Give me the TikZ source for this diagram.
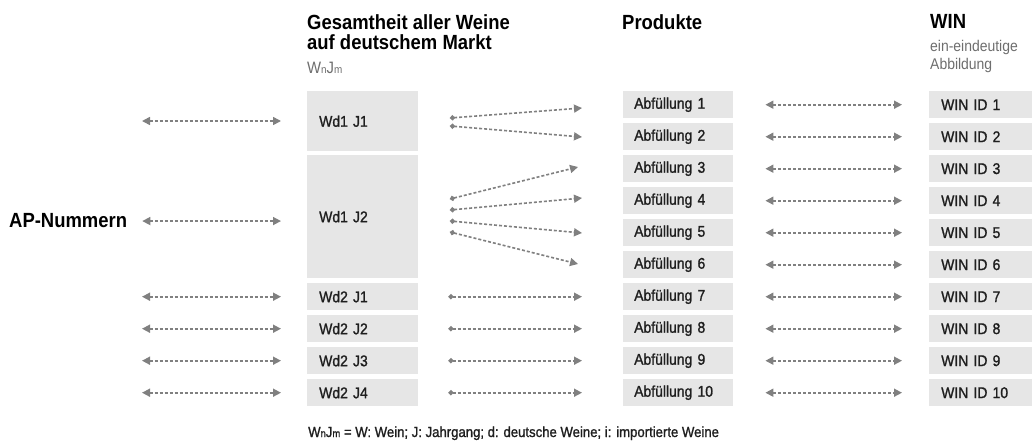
\documentclass[tikz,border=0pt]{standalone}
\usepackage{fontspec}
\setmainfont{Liberation Sans}[FakeStretch=0.9]
\newfontfamily\boxfont{Liberation Sans}[FakeStretch=0.9,FakeBold=1.2]
\usetikzlibrary{arrows.meta,calc}
\definecolor{boxgray}{HTML}{E6E6E6}
\definecolor{arrgray}{HTML}{808080}
\definecolor{txt}{HTML}{1E1E1E}
\definecolor{subgray}{HTML}{6E6E6E}
\tikzset{
  boxbase/.style={fill=boxgray, text=txt, font=\boxfont\fontsize{15.5}{18}\selectfont, inner ysep=0pt, align=left, anchor=north west, minimum height=27pt},
  boxL/.style={boxbase, inner xsep=12pt, text width=87pt},
  boxP/.style={boxbase, inner xsep=11pt, text width=88pt},
  boxW/.style={boxbase, inner xsep=12pt, text width=79pt},
  hdr/.style={anchor=base west, inner sep=0pt, text=black, font=\fontsize{20.5}{20}\selectfont\bfseries},
  sub/.style={anchor=base west, inner sep=0pt, text=subgray, font=\fontsize{15.5}{18}\selectfont},
  dblarrow/.style={draw=arrgray, line width=1.6pt, dash pattern=on 3pt off 2pt,
    {Triangle[length=8pt,width=8pt]}-{Triangle[length=8pt,width=8pt]}},
  onearrow/.style={draw=arrgray, line width=1.6pt, dash pattern=on 3pt off 2pt,
    {Circle[length=5pt]}-{Triangle[length=8pt,width=8pt]}},
}
\newcommand{\wnjm}[1]{W{\fontsize{#1}{#1}\selectfont n}J{\fontsize{#1}{#1}\selectfont m}}
\begin{document}
\begin{tikzpicture}[x=1pt,y=-1pt]
\useasboundingbox (0,0) rectangle (1032,445);

% headers
\node[hdr] (h1) at (307,29) {Gesamtheit aller Weine};
\node[hdr] (h2) at (307,49) {auf deutschem Markt};
\node[sub, font=\fontsize{16.5}{18}\selectfont] (h3) at (307,73) {\wnjm{11}};
\node[hdr] (hp) at (622,29) {Produkte};
\node[hdr] (hw) at (930,28) {WIN};
\node[sub] (hw1) at (930,51) {ein-eindeutige};
\node[sub] (hw2) at (930,69) {Abbildung};
\node[hdr] (ap) at (9,227) {AP-Nummern};

% left column
\node[boxL, minimum height=60pt] (w11) at (307,91) {Wd1 J1};
\node[boxL, minimum height=123pt] (w12) at (307,155) {Wd1 J2};
\node[boxL] (w21) at (307,283) {Wd2 J1};
\node[boxL] (w22) at (307,315) {Wd2 J2};
\node[boxL] (w23) at (307,347) {Wd2 J3};
\node[boxL] (w24) at (307,379) {Wd2 J4};

% products and WIN IDs
\foreach \i in {1,...,10} {
  \pgfmathsetmacro{\t}{91+32*(\i-1)}
  \node[boxP] (a\i) at (623,\t) {Abfüllung \i};
  \node[boxW] (id\i) at (929,\t) {WIN ID \i};
  \draw[dblarrow, shorten <=32pt, shorten >=27pt] (a\i.east) -- (id\i.west);
}

% left arrows
\coordinate (l1) at (142,121);
\draw[dblarrow, shorten >=26pt] (l1) -- (l1 -| w11.west);
\coordinate (apr) at ($(ap.east)+(0,1)$);
\draw[dblarrow, shorten <=15pt, shorten >=26pt] (apr) -- (apr -| w12.west);
\foreach \n in {21,22,23,24} {
  \coordinate (l\n) at (142,0 |- w\n.center);
  \draw[dblarrow, shorten >=26pt] (l\n |- w\n.west) -- (w\n.west);
}

% middle arrows (Wd1 J1 and Wd1 J2)
\coordinate (s1) at (450,118); \coordinate (t1) at (582,108);
\coordinate (s2) at (450,126); \coordinate (t2) at (582,137);
\coordinate (s3) at (450,199); \coordinate (t3) at (578,167);
\coordinate (s4) at (450,210); \coordinate (t4) at (582,198);
\coordinate (s5) at (450,221); \coordinate (t5) at (582,233);
\coordinate (s6) at (450,232); \coordinate (t6) at (578,264);
\foreach \k in {1,...,6} { \draw[onearrow] (s\k) -- (t\k); }

% middle arrows (Wd2)
\draw[onearrow, shorten <=30pt, shorten >=41pt] (w21.east) -- (a7.west);
\draw[onearrow, shorten <=30pt, shorten >=41pt] (w22.east) -- (a8.west);
\draw[onearrow, shorten <=30pt, shorten >=41pt] (w23.east) -- (a9.west);
\draw[onearrow, shorten <=30pt, shorten >=41pt] (w24.east) -- (a10.west);

% footnote
\node[anchor=base west, inner sep=0pt, text=txt, font=\boxfont\fontsize{14.6}{16}\selectfont] (fn) at (308,437)
  {\wnjm{10.5}\ = W: Wein; J: Jahrgang; d: deutsche Weine; i: importierte Weine};
\end{tikzpicture}
\end{document}
